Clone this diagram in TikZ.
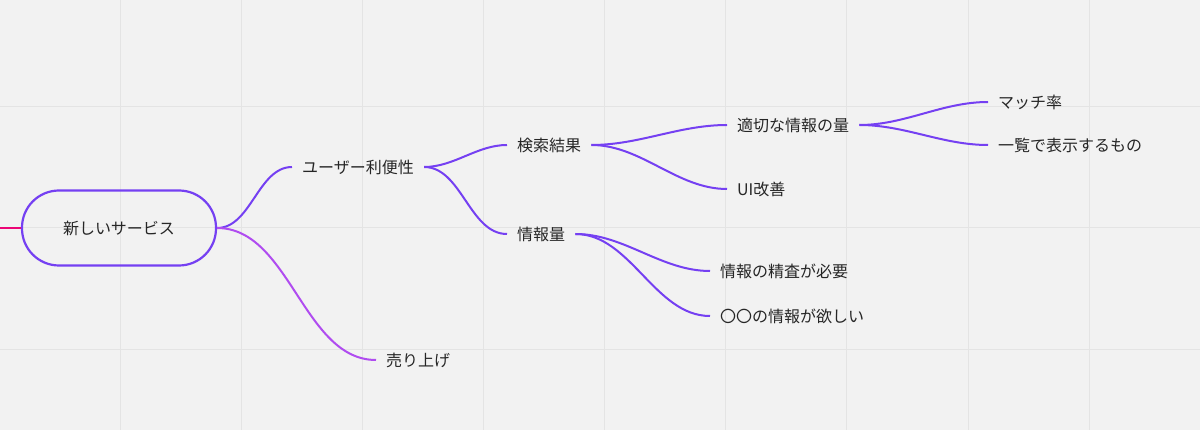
\documentclass[tikz,border=0pt]{standalone}
\usepackage{fontspec}
\setmainfont{Noto Sans CJK JP}
\begin{document}
\begin{tikzpicture}[x=1pt,y=-1pt,
  lab/.style={inner xsep=10pt,inner ysep=2pt,font=\fontsize{16}{19}\selectfont,text=black!85},
  br/.style={draw=purp,line width=2pt,out=0,in=180,looseness=0.9},
  br2/.style={draw=purp2,line width=2pt,out=0,in=180,looseness=0.9}]
\definecolor{purp}{HTML}{7540F2}
\definecolor{purp2}{HTML}{B04CF0}
\definecolor{bg}{HTML}{F2F2F2}
\definecolor{gridc}{HTML}{E4E4E4}
\fill[bg] (0,0) rectangle (1200,430);
\useasboundingbox (0,0) rectangle (1200,430);
\foreach \x in {120,241,362,483,604,725,846,968,1089} \draw[gridc,line width=1pt] (\x,0) -- (\x,430);
\foreach \y in {107,228,350} \draw[gridc,line width=1pt] (0,\y) -- (1200,\y);
\node[draw=purp,line width=2.2pt,rounded corners=37pt,minimum width=194pt,minimum height=75pt,font=\fontsize{16}{19}\selectfont,text=black!85] (root) at (119,228) {新しいサービス};
\coordinate (L) at (0,228);
\draw[draw=magenta!80!red,line width=2.5pt] (L) -- (root.west);
\node[lab,anchor=west] (u) at (292,167) {ユーザー利便性};
\node[lab,anchor=west] (k) at (507,145) {検索結果};
\node[lab,anchor=west] (j) at (507,234) {情報量};
\node[lab,anchor=west] (t) at (727,125) {適切な情報の量};
\node[lab,anchor=west] (ui) at (727,189) {UI改善};
\node[lab,anchor=west] (m) at (988,102) {マッチ率};
\node[lab,anchor=west] (ic) at (988,145) {一覧で表示するもの};
\node[lab,anchor=west] (s) at (710,271) {情報の精査が必要};
\node[lab,anchor=west] (o) at (710,316) {〇〇の情報が欲しい};
\node[lab,anchor=west] (ur) at (376,360) {売り上げ};
\draw[br] (root.east) to (u.west);
\draw[br2] (root.east) to (ur.west);
\draw[br] (u.east) to (k.west);
\draw[br] (u.east) to (j.west);
\draw[br] (k.east) to (t.west);
\draw[br] (k.east) to (ui.west);
\draw[br] (t.east) to (m.west);
\draw[br] (t.east) to (ic.west);
\draw[br] (j.east) to (s.west);
\draw[br] (j.east) to (o.west);
\end{tikzpicture}
\end{document}
